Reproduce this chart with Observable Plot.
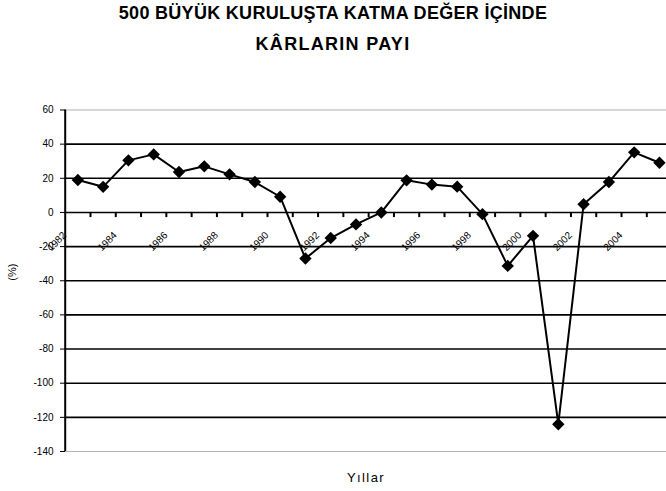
<!DOCTYPE html>
<html>
<head>
<meta charset="utf-8">
<script src="https://cdn.jsdelivr.net/npm/d3@7"></script>
<script src="https://cdn.jsdelivr.net/npm/@observablehq/plot@0.6"></script>
<style>
  body { margin: 0; background: #fff; width: 666px; height: 491px; overflow: hidden; }
  #title { height: 90px; overflow: hidden; font-family: "Liberation Sans", Arial, sans-serif; font-weight: bold; font-size: 18px; text-align: center; line-height: 31px; color: #000; }
  #title div { position: relative; top: -2px; }
  #title div:first-child { letter-spacing: 0.3px; }
  #title div:last-child { letter-spacing: 1.3px; }
  #chart svg { display: block; font-family: "Liberation Sans", Arial, sans-serif; }
</style>
</head>
<body>
<div id="title"><div>500 BÜYÜK KURULUŞTA KATMA DEĞER İÇİNDE</div><div>KÂRLARIN PAYI</div></div>
<div id="chart"></div>
<script>
const years = [1982,1983,1984,1985,1986,1987,1988,1989,1990,1991,1992,1993,1994,1995,1996,1997,1998,1999,2000,2001,2002,2003,2004,2005];
const shares = [19,15,30.5,34,23.7,27,22.3,17.8,9.2,-27,-15,-7,0,18.8,16.3,15.1,-1,-31.3,-13.7,-124,4.8,17.8,35.2,29.1];
const xTickLabels = [1982,1984,1986,1988,1990,1992,1994,1996,1998,2000,2002,2004];
const yTicks = [-140,-120,-100,-80,-60,-40,-20,0,20,40,60];
const yGrid = [-120,-100,-80,-60,-40,-20,0,20,40];
const yFrame = [-140,60];

const data = years.map((y, i) => ({year: y, value: shares[i]}));
const boundaries = years.slice(0, -1).map(y => y + 0.5);

const diamond = {
  draw(context, size) {
    const h = 6.2;
    context.moveTo(0, -h);
    context.lineTo(h, 0);
    context.lineTo(0, h);
    context.lineTo(-h, 0);
    context.closePath();
  }
};

const chart = Plot.plot({
  width: 666,
  height: 401,
  marginTop: 19.5,
  marginBottom: 40,
  marginLeft: 65,
  marginRight: 0,
  x: {type: "linear", domain: [1981.5, 2005.5], range: [64.7, 671.6], axis: null},
  y: {domain: [-140, 60], ticks: yTicks, tickSize: 5, tickPadding: 7, tickFormat: d => String(d), label: null, line: false},
  marks: [
    Plot.ruleY(yFrame, {stroke: "#b0b0b0", strokeWidth: 1}),
    Plot.ruleY(yGrid, {stroke: "#000", strokeWidth: 1.6}),
    Plot.ruleX([1981.5], {y1: -140, y2: 60, stroke: "#000", strokeWidth: 2}),
    Plot.ruleX(boundaries, {x: d => d, y1: 0, y2: -3, stroke: "#000", strokeWidth: 2}),
    Plot.text(xTickLabels, {x: d => d, y: 0, text: d => String(d), rotate: -45, dx: -21, dy: 29, fontSize: 10, fill: "#000"}),
    Plot.line(data, {x: "year", y: "value", stroke: "#000", strokeWidth: 2}),
    Plot.dot(data, {x: "year", y: "value", symbol: diamond, fill: "#000", stroke: "none"}),
    Plot.text(["(%)"], {frameAnchor: "left", dx: -53, rotate: -90, fontSize: 11, fill: "#000"}),
    Plot.text(["Yıllar"], {frameAnchor: "bottom", dy: 30, fontSize: 13, fill: "#000"})
  ]
});
chart.style.fontSize = "10px";
chart.style.color = "#000";
chart.style.background = "#fff";
document.getElementById("chart").appendChild(chart);
d3.select(chart).selectAll("text").each(function() {
  if (this.textContent === "Yıllar") this.style.letterSpacing = "1.4px";
});
</script>
</body>
</html>
